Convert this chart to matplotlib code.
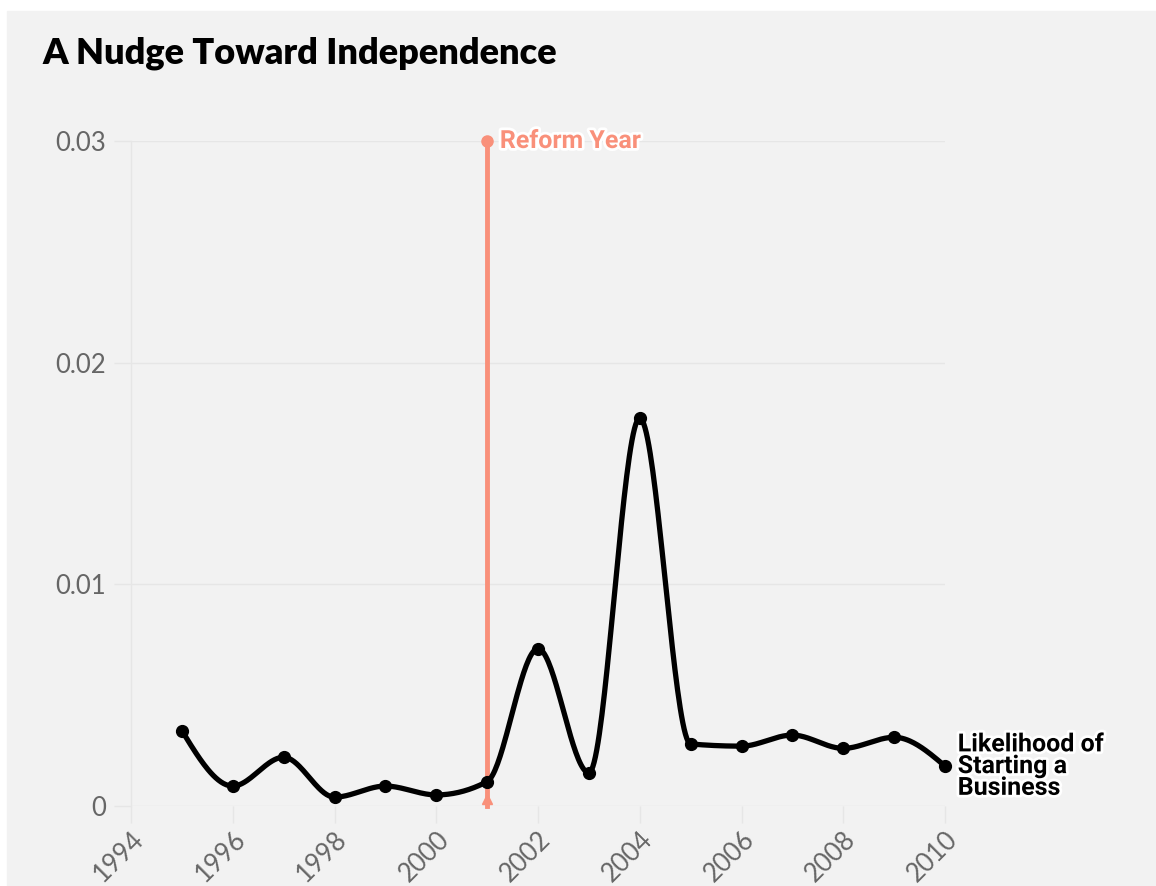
import numpy as np
import matplotlib.pyplot as plt
import matplotlib.patheffects as pe
from matplotlib.patches import Rectangle

# data
years = [1995, 1996, 1997, 1998, 1999, 2000, 2001, 2002,
         2003, 2004, 2005, 2006, 2007, 2008, 2009, 2010]
likelihood = [0.0034, 0.0009, 0.0022, 0.0004, 0.0009, 0.0005, 0.0011, 0.0071,
              0.0015, 0.0175, 0.0028, 0.0027, 0.0032, 0.0026, 0.0031, 0.0018]
reform_year = 2001
x_ticks = list(range(1994, 2011, 2))
y_ticks = [0, 0.01, 0.02, 0.03]
y_tick_labels = ["0", "0.01", "0.02", "0.03"]

BG = "#f2f2f2"
SALMON = "#f9907a"
GRID = "#e6e6e6"
LABEL_FONT = ["Roboto", "DejaVu Sans"]


def monotone_curve(xs, ys, steps=40):
    """Drawing path through the points, same rule as d3 curveMonotoneX"""
    x = np.array(xs, dtype=float)
    y = np.array(ys, dtype=float)
    n = len(x)
    h = np.diff(x)
    s = np.diff(y) / h
    m = np.zeros(n)
    for i in range(1, n - 1):
        p = (s[i - 1] * h[i] + s[i] * h[i - 1]) / (h[i - 1] + h[i])
        m[i] = (np.sign(s[i - 1]) + np.sign(s[i])) * min(
            abs(s[i - 1]), abs(s[i]), 0.5 * abs(p))
    m[0] = (3 * s[0] - m[1]) / 2
    m[-1] = (3 * s[-1] - m[-2]) / 2
    t = np.linspace(0, 1, steps)
    out_x, out_y = [], []
    for i in range(n - 1):
        h00 = 2 * t ** 3 - 3 * t ** 2 + 1
        h10 = t ** 3 - 2 * t ** 2 + t
        h01 = -2 * t ** 3 + 3 * t ** 2
        h11 = t ** 3 - t ** 2
        out_x.extend(x[i] + t * h[i])
        out_y.extend(h00 * y[i] + h10 * h[i] * m[i]
                     + h01 * y[i + 1] + h11 * h[i] * m[i + 1])
    return np.array(out_x), np.array(out_y)


fig = plt.figure(figsize=(11.56, 8.86), dpi=100, facecolor="white")
bg_rect = Rectangle((7 / 1156, 0.0), 1.0, 1 - 11 / 886,
                    transform=fig.transFigure, color=BG, zorder=-10)
fig.patches.append(bg_rect)

ax = fig.add_axes([131 / 1156, 1 - 806 / 886, 814 / 1156, 665 / 886])
ax.set_facecolor(BG)
ax.set_xlim(1994, 2010)
ax.set_ylim(0, 0.03)

for s in ["top", "right", "bottom"]:
    ax.spines[s].set_visible(False)
ax.spines["left"].set_color(GRID)
ax.spines["left"].set_linewidth(1)

ax.set_yticks(y_ticks)
ax.set_yticklabels(y_tick_labels)
ax.set_xticks(x_ticks)
ax.set_xticklabels([str(v) for v in x_ticks], rotation=45, ha="right",
                   rotation_mode="anchor")
ax.tick_params(axis="both", colors=GRID, labelcolor="#666666",
               labelsize=18.5, length=12, width=1)
ax.tick_params(axis="y", pad=6)
ax.tick_params(axis="x", pad=3)
for lab in ax.get_xticklabels() + ax.get_yticklabels():
    lab.set_family(["Lato", "DejaVu Sans"])
ax.grid(axis="y", color=GRID, linewidth=1)
ax.set_axisbelow(True)

# reform year marker
ax.plot([reform_year, reform_year], [0, 0.03], color=SALMON, lw=3.5,
        zorder=3, clip_on=False)
ax.plot([reform_year], [0.03], "o", color=SALMON, ms=8, zorder=4, clip_on=False)
ax.plot([reform_year], [0.0003], "^", color=SALMON, ms=7, zorder=4, clip_on=False)
ax.text(reform_year + 0.25, 0.03, "Reform Year", color=SALMON, fontsize=18,
        fontweight="bold", family=LABEL_FONT,
        va="center", ha="left", zorder=5,
        path_effects=[pe.withStroke(linewidth=4, foreground="white")])

# smoothed series
sx, sy = monotone_curve(years, likelihood)
ax.plot(sx, sy, color="black", lw=3.8, zorder=6, solid_capstyle="round",
        clip_on=False)
ax.plot(years, likelihood, "o", color="black", ms=8.5, zorder=7, clip_on=False)

ax.text(years[-1] + 0.25, likelihood[-1], "Likelihood of\nStarting a\nBusiness",
        color="black", fontsize=18, fontweight="bold", family=LABEL_FONT,
        va="center", ha="left", linespacing=0.88, zorder=8,
        path_effects=[pe.withStroke(linewidth=4, foreground="white")])

fig.text(42 / 1156, 1 - 53 / 886, "A Nudge Toward Independence",
         fontsize=26, fontweight="heavy", family=["Lato", "DejaVu Sans"],
         color="black", va="center", ha="left")

fig.savefig("out.png", dpi=100, facecolor="white")
